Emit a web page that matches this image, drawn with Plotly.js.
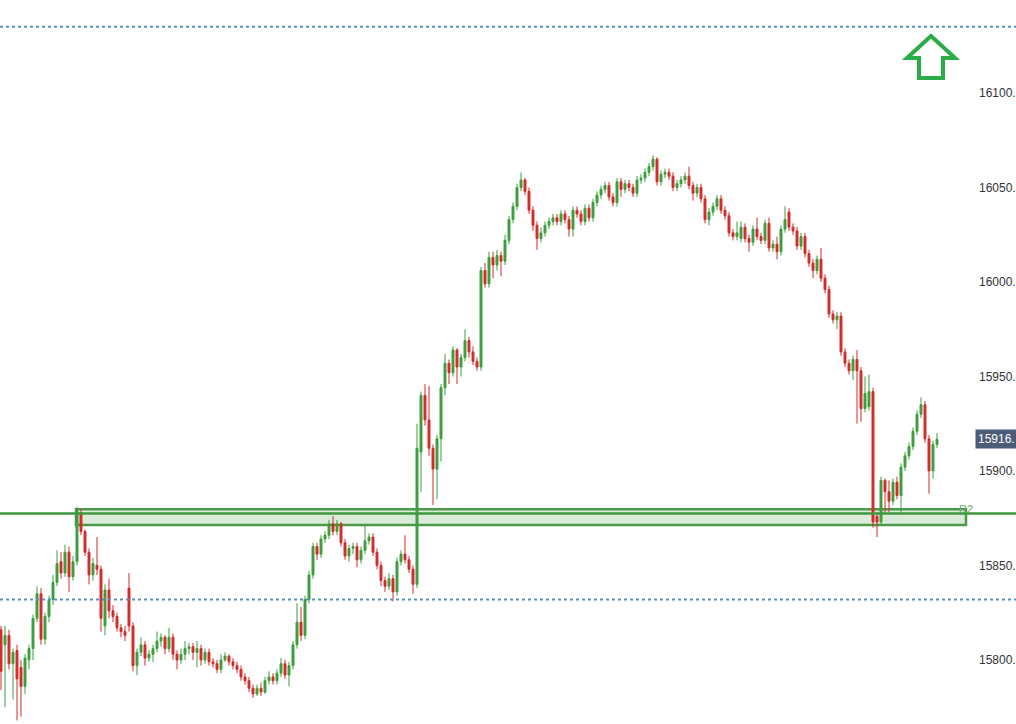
<!DOCTYPE html>
<html>
<head>
<meta charset="utf-8">
<script src="https://cdn.plot.ly/plotly-3.0.1.min.js"></script>
<style>
  html, body { margin: 0; padding: 0; background: #ffffff; overflow: hidden; }
  #chart { width: 1016px; height: 724px; }
</style>
</head>
<body>
<div id="chart"></div>
<script>
// ---- data ----
const openP = [
15816,15808,15813,15798,15805,15796,15786,15800,15806,15822,15835,15811,15823,15832,15841,15852,15846,15857,15844,15852,
15878,15868,15857,15845,15850,15848,15818,15837,15826,15823,15817,15815,15838,15818,15797,15804,15808,15801,15803,15806,
15810,15812,15806,15812,15803,15800,15803,15806,15807,15804,15806,15800,15804,15799,15798,15795,15800,15802,15799,15797,
15795,15791,15789,15785,15782,15785,15783,15789,15791,15789,15793,15798,15792,15797,15808,15820,15813,15832,15845,15860,
15856,15864,15866,15872,15868,15872,15862,15855,15859,15860,15853,15858,15863,15865,15857,15850,15842,15839,15843,15836,
15852,15856,15853,15848,15840,15910,15940,15927,15912,15901,15917,15944,15957,15952,15964,15955,15960,15969,15963,15958,
15955,16006,15999,16013,16009,16014,16011,16022,16033,16040,16050,16054,16048,16038,16030,16023,16026,16030,16032,16034,
16032,16036,16033,16028,16038,16036,16032,16039,16034,16042,16046,16049,16051,16045,16042,16053,16049,16052,16050,16047,
16054,16055,16058,16061,16065,16053,16057,16058,16056,16050,16052,16054,16056,16051,16047,16050,16044,16033,16037,16040,
16044,16038,16035,16026,16024,16023,16029,16023,16021,16028,16024,16022,16031,16018,16020,16016,16028,16037,16029,16027,
16019,16024,16015,16010,16006,16012,16002,15996,15983,15980,15982,15963,15957,15953,15959,15953,15933,15934,15942,15876,
15873,15895,15889,15884,15894,15887,15902,15908,15913,15921,15930,15935,15917,15900,15914
];
const highP = [
15818,15818,15816,15806,15808,15800,15803,15808,15824,15839,15838,15825,15834,15845,15858,15857,15861,15860,15855,15881,
15880,15869,15859,15854,15865,15850,15840,15843,15829,15825,15819,15818,15846,15820,15806,15812,15810,15805,15808,15815,
15814,15813,15817,15814,15805,15806,15810,15809,15809,15810,15808,15806,15806,15801,15800,15803,15804,15803,15801,15799,
15797,15793,15791,15787,15787,15788,15791,15794,15793,15795,15801,15800,15799,15810,15830,15828,15834,15847,15862,15862,
15866,15868,15874,15876,15874,15873,15864,15861,15862,15862,15860,15872,15867,15867,15859,15852,15844,15846,15845,15854,
15858,15866,15855,15850,15925,15942,15946,15945,15914,15919,15946,15962,15959,15966,15965,15962,15975,15971,15966,15960,
16008,16010,16016,16016,16017,16016,16025,16035,16042,16052,16058,16055,16050,16040,16032,16029,16032,16034,16036,16036,
16038,16038,16035,16040,16040,16038,16041,16041,16044,16048,16051,16053,16053,16047,16055,16055,16054,16054,16052,16056,
16057,16060,16063,16067,16066,16059,16060,16060,16058,16054,16056,16058,16061,16053,16052,16052,16046,16039,16042,16046,
16046,16040,16037,16028,16032,16032,16031,16025,16030,16034,16026,16033,16034,16022,16024,16030,16040,16039,16031,16029,
16026,16026,16017,16012,16014,16018,16004,15998,15985,15984,15984,15965,15959,15961,15964,15955,15950,15951,15944,15878,
15897,15896,15895,15896,15897,15904,15910,15915,15923,15932,15939,15937,15919,15916,15920
];
const lowP = [
15784,15775,15795,15779,15768,15770,15782,15795,15800,15820,15808,15808,15820,15829,15839,15843,15844,15836,15842,15850,
15866,15855,15840,15842,15845,15815,15813,15822,15820,15815,15812,15810,15815,15794,15792,15802,15797,15799,15799,15804,
15807,15803,15804,15800,15795,15798,15800,15803,15800,15796,15797,15798,15797,15796,15793,15793,15799,15797,15795,15793,
15789,15787,15783,15780,15781,15781,15782,15787,15787,15787,15791,15790,15786,15795,15806,15810,15811,15830,15843,15853,
15854,15862,15864,15866,15866,15860,15853,15852,15856,15849,15851,15856,15861,15855,15848,15839,15836,15837,15831,15834,
15850,15851,15846,15835,15838,15889,15924,15908,15882,15885,15905,15940,15946,15950,15946,15950,15958,15960,15956,15953,
15953,15997,15997,16002,16006,16003,16009,16020,16031,16038,16048,16046,16036,16027,16017,16021,16024,16028,16030,16030,
16030,16031,16024,16024,16034,16030,16030,16032,16032,16040,16044,16047,16043,16040,16040,16045,16047,16048,16045,16045,
16052,16053,16056,16059,16051,16051,16055,16054,16048,16048,16050,16052,16049,16043,16045,16042,16031,16030,16035,16038,
16036,16033,16024,16022,16022,16021,16021,16016,16019,16022,16020,16020,16016,16016,16012,16014,16026,16027,16025,16017,
16017,16013,16008,16002,16004,16000,15994,15981,15978,15975,15961,15955,15951,15948,15925,15926,15931,15932,15870,15865,
15871,15878,15878,15882,15885,15878,15900,15906,15911,15919,15928,15915,15888,15896,15912
];
const closeP = [
15794,15813,15798,15804,15790,15786,15801,15806,15822,15835,15811,15823,15832,15841,15851,15846,15857,15844,15852,15879,
15868,15857,15845,15851,15848,15822,15837,15826,15823,15817,15815,15813,15818,15797,15804,15808,15801,15803,15806,15810,
15812,15806,15812,15803,15800,15803,15806,15807,15804,15806,15800,15804,15799,15798,15795,15800,15802,15799,15797,15795,
15791,15789,15785,15782,15785,15783,15789,15791,15789,15793,15798,15792,15797,15808,15820,15813,15832,15845,15860,15856,
15864,15866,15872,15868,15872,15862,15855,15859,15860,15853,15858,15863,15865,15857,15850,15842,15839,15843,15836,15852,
15856,15853,15848,15840,15912,15940,15927,15912,15901,15917,15944,15957,15952,15964,15955,15960,15969,15963,15958,15955,
16006,15999,16013,16009,16014,16011,16022,16033,16040,16050,16054,16048,16038,16030,16023,16026,16030,16032,16034,16032,
16036,16033,16028,16038,16036,16032,16039,16034,16042,16046,16049,16051,16045,16042,16053,16049,16052,16050,16047,16054,
16055,16058,16061,16065,16053,16057,16058,16056,16050,16052,16054,16056,16051,16047,16050,16044,16033,16037,16040,16044,
16038,16035,16026,16024,16026,16029,16023,16021,16028,16024,16022,16031,16018,16020,16016,16028,16033,16029,16027,16019,
16024,16015,16010,16006,16012,16002,15996,15983,15980,15982,15963,15957,15953,15959,15953,15933,15941,15942,15873,15873,
15895,15889,15884,15894,15887,15902,15908,15913,15921,15930,15935,15917,15900,15914,15916.7
];
const yTickVals = [15800, 15850, 15900, 15950, 16000, 16050, 16100];
const dottedLevels = [16135, 15832];      // blue dotted levels
const supportLevel = 15877.5;             // solid green level
const zoneTop = 15879.7, zoneBottom = 15871.4; // R2 zone
const zoneLabel = 'R2';

// ---- build ----
const n = closeP.length;
const xIdx = Array.from({length: n}, (_, i) => i);
const W = 1016, H = 724;
const xRange = [-0.25, 253.75];
const yRange = [15766.1, 16149.2];
const px = p => p / W;           // pixel -> paper x
const py = p => 1 - p / H;       // pixel -> paper y

const GREEN = '#3c9e3c', RED = '#d52b2b';

const trace = {
  type: 'candlestick',
  x: xIdx, open: openP, high: highP, low: lowP, close: closeP,
  increasing: {line: {color: GREEN, width: 1}, fillcolor: GREEN},
  decreasing: {line: {color: RED, width: 1}, fillcolor: RED},
  whiskerwidth: 0,
  hoverinfo: 'skip',
  showlegend: false
};

const zoneStart = 18.75, zoneEnd = 241.25;

const shapes = [];
shapes.push({type: 'rect', xref: 'x', yref: 'y', x0: zoneStart, x1: zoneEnd, y0: zoneBottom, y1: zoneTop,
  fillcolor: 'rgba(70,155,70,0.2)', line: {color: '#4a9a4a', width: 2.5}, layer: 'below'});
shapes.push({type: 'line', xref: 'paper', yref: 'y', x0: 0, x1: 1, y0: supportLevel, y1: supportLevel,
  line: {color: '#3f983f', width: 2.5}, layer: 'above'});
dottedLevels.forEach(l => shapes.push({type: 'line', xref: 'paper', yref: 'y', x0: 0, x1: 1, y0: l, y1: l,
  line: {color: '#5a8fc4', width: 2, dash: 'dot'}, layer: 'above'}));

// up arrow marker (decoration)
const arrowPts = [[931,36],[955,58],[943,58],[943,78],[919,78],[919,58],[907,58]];
const arrowPath = 'M' + arrowPts.map(p => px(p[0]) + ',' + py(p[1])).join(' L') + ' Z';
shapes.push({type: 'path', xref: 'paper', yref: 'paper', path: arrowPath,
  line: {color: '#2aac48', width: 4}, fillcolor: 'rgba(0,0,0,0)', layer: 'above'});

// labels as they appear at the right edge of the reference (last digit cropped)
const tickText = yTickVals.map(v => v.toFixed(0) + '.');
const lastClose = closeP[n - 1];
const lastLabel = Math.floor(lastClose) + '.';

const annotations = [
  {xref: 'x', yref: 'y', x: zoneEnd - 0.1, y: zoneTop + 0.3, text: zoneLabel, showarrow: false,
   xanchor: 'center', yanchor: 'middle', font: {family: 'Arial, Liberation Sans, sans-serif', size: 11, color: '#6aa86a'}},
  {xref: 'paper', yref: 'y', x: px(975), y: lastClose, text: lastLabel, showarrow: false,
   xanchor: 'left', yanchor: 'middle', bgcolor: '#4b5b78', borderpad: 2,
   font: {family: 'Arial, Liberation Sans, sans-serif', size: 12, color: '#ffffff'}}
];

const layout = {
  width: W, height: H,
  margin: {l: 0, r: 0, t: 0, b: 0, pad: 0},
  paper_bgcolor: '#ffffff', plot_bgcolor: '#ffffff',
  showlegend: false,
  xaxis: {range: xRange, visible: false, rangeslider: {visible: false}, fixedrange: true},
  yaxis: {range: yRange, side: 'right', anchor: 'free', position: px(978),
    tickvals: yTickVals, ticktext: tickText, ticks: '', showline: false, showgrid: false, zeroline: false,
    tickfont: {family: 'Arial, Liberation Sans, sans-serif', size: 12, color: '#333333'}, fixedrange: true},
  shapes: shapes,
  annotations: annotations,
  hovermode: false
};

Plotly.newPlot('chart', [trace], layout, {displayModeBar: false, staticPlot: true});
</script>
</body>
</html>
